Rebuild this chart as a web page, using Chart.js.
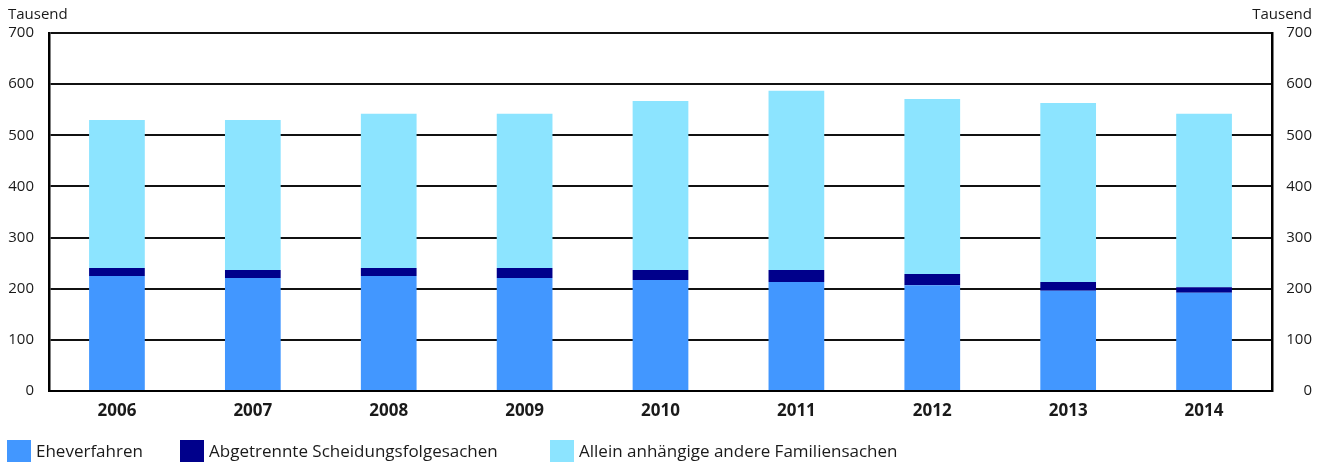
<!DOCTYPE html>
<html>
<head>
<meta charset="utf-8">
<script src="https://cdn.jsdelivr.net/npm/chart.js@4"></script>
<style>
  html, body { margin: 0; padding: 0; background: #fff; }
  #wrap { width: 1322px; height: 462px; }
</style>
</head>
<body>
<div id="wrap"><canvas id="chart" width="1322" height="462"></canvas></div>
<script>
// Gerichtliche Familiensachen, in Tausend
const years = ['2006', '2007', '2008', '2009', '2010', '2011', '2012', '2013', '2014'];
const eheverfahren = [225, 221, 225, 221, 217, 213, 207, 196, 192];
const scheidungsfolgesachen = [15.5, 15.6, 15.5, 19.5, 19.6, 23.6, 21.8, 17.0, 11.0];
const familiensachen = [289.5, 293.4, 301.5, 301.5, 330.4, 350.4, 342.0, 350.0, 339.0];
const yTicks = [0, 100, 200, 300, 400, 500, 600, 700];
const unitLabel = 'Tausend';

const FONT = '"Open Sans", "DejaVu Sans", sans-serif';
const TEXT = '#1a1a1a';

// "Tausend" above both axes + legend row at the bottom
const extras = {
  id: 'extras',
  afterDraw(chart) {
    const ctx = chart.ctx;
    ctx.save();
    ctx.fillStyle = TEXT;
    ctx.font = '15px ' + FONT;
    ctx.textBaseline = 'alphabetic';
    ctx.textAlign = 'left';
    ctx.fillText(unitLabel, 8, 19);
    ctx.textAlign = 'right';
    ctx.fillText(unitLabel, 1312, 19);

    // legend
    const starts = [7, 180, 550];
    ctx.font = '17px ' + FONT;
    ctx.textAlign = 'left';
    ctx.textBaseline = 'middle';
    chart.data.datasets.forEach((ds, i) => {
      const x = starts[i];
      ctx.fillStyle = ds.backgroundColor;
      ctx.fillRect(x, 440, 24, 22);
      ctx.fillStyle = TEXT;
      ctx.fillText(ds.label, x + 29, 452);
    });
    ctx.restore();
  }
};

new Chart(document.getElementById('chart').getContext('2d'), {
  type: 'bar',
  data: {
    labels: years,
    datasets: [
      { label: 'Eheverfahren', data: eheverfahren, backgroundColor: '#4297FF' },
      { label: 'Abgetrennte Scheidungsfolgesachen', data: scheidungsfolgesachen, backgroundColor: '#00008B' },
      { label: 'Allein anhängige andere Familiensachen', data: familiensachen, backgroundColor: '#8CE4FF' }
    ]
  },
  options: {
    responsive: false,
    animation: false,
    datasets: { bar: { categoryPercentage: 1, barPercentage: 0.41, borderWidth: 0 } },
    layout: { padding: { top: 33, right: 10, bottom: 35, left: 0 } },
    plugins: {
      legend: { display: false },
      tooltip: { enabled: false }
    },
    scales: {
      x: {
        stacked: true,
        grid: { display: false, drawTicks: false },
        border: { color: '#000', width: 2 },
        ticks: { color: TEXT, padding: 10, font: { family: FONT, size: 17, weight: 'bold' } },
        afterFit: s => { s.height = 36; }
      },
      y: {
        stacked: true,
        position: 'left',
        min: 0, max: 700,
        afterBuildTicks: s => { s.ticks = yTicks.map(v => ({ value: v })); },
        grid: { color: '#111', lineWidth: 2, drawTicks: false },
        border: { color: '#000', width: 2.5 },
        ticks: { color: TEXT, padding: 15, font: { family: FONT, size: 15 } },
        afterFit: s => { s.width = 49; }
      },
      y2: {
        position: 'right',
        min: 0, max: 700,
        afterBuildTicks: s => { s.ticks = yTicks.map(v => ({ value: v })); },
        grid: { display: false, drawTicks: false },
        border: { color: '#000', width: 2.5 },
        ticks: { color: TEXT, crossAlign: 'far', font: { family: FONT, size: 15 } },
        afterFit: s => { s.width = 40; }
      }
    }
  },
  plugins: [extras]
});
</script>
</body>
</html>
